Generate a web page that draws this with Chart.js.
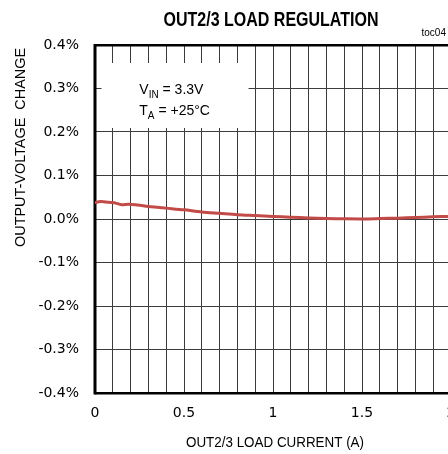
<!DOCTYPE html>
<html>
<head>
<meta charset="utf-8">
<script src="https://cdn.jsdelivr.net/npm/chart.js@4/dist/chart.umd.min.js"></script>
<style>
  html, body { margin: 0; padding: 0; background: #fff; overflow: hidden; width: 448px; height: 454px; }
  #wrap { width: 460px; height: 454px; position: relative; }
  canvas { display: block; }
</style>
</head>
<body>
<div id="wrap"><canvas id="c" width="460" height="454" style="width:460px;height:454px"></canvas></div>
<script>
// ---- data ----
const loadCurrent = [0, 0.03, 0.06, 0.1, 0.13, 0.15, 0.19, 0.24, 0.3, 0.35, 0.4, 0.5, 0.6, 0.7, 0.8, 0.9, 1.0, 1.1, 1.2, 1.3, 1.4, 1.5, 1.6, 1.7, 1.8, 1.9, 2.0];
const voltageChange = [0.038, 0.040, 0.039, 0.038, 0.035, 0.033, 0.034, 0.032, 0.029, 0.027, 0.025, 0.021, 0.016, 0.013, 0.010, 0.008, 0.006, 0.004, 0.0025, 0.0012, 0.0005, 0.0002, 0.001, 0.002, 0.0035, 0.005, 0.006];
const xTickLabels = ['0', '0.5', '1', '1.5', '2'];
const yTickLabels = ['-0.4%', '-0.3%', '-0.2%', '-0.1%', '0.0%', '0.1%', '0.2%', '0.3%', '0.4%'];
const chartTitle = 'OUT2/3 LOAD REGULATION';
const xTitle = 'OUT2/3 LOAD CURRENT (A)';
const yTitle = 'OUTPUT-VOLTAGE  CHANGE';
const figId = 'toc04';

const points = loadCurrent.map((x, i) => ({ x: x, y: voltageChange[i] }));

function drawScaledText(ctx, str, x, y, font, targetWidth, align) {
  ctx.save();
  ctx.font = font;
  const w = ctx.measureText(str).width;
  const sx = targetWidth ? targetWidth / w : 1;
  ctx.translate(x, y);
  ctx.scale(sx, 1);
  ctx.textBaseline = 'alphabetic';
  ctx.textAlign = 'left';
  let ox = 0;
  if (align === 'center') ox = -w / 2;
  else if (align === 'right') ox = -w;
  ctx.fillText(str, ox, 0);
  ctx.restore();
}

const decor = {
  id: 'decor',
  beforeDatasetsDraw(chart) {
    const ctx = chart.ctx;
    const a = chart.chartArea;
    ctx.save();
    // white annotation box
    ctx.fillStyle = '#fff';
    ctx.fillRect(a.left + 6.5, a.top + 18, 147, 65);
    // annotation text
    ctx.fillStyle = '#000';
    ctx.textBaseline = 'alphabetic';
    ctx.textAlign = 'left';
    const tx = a.left + 44.3;
    let y1 = a.top + 49;
    ctx.font = '14px "Liberation Sans", Arial, sans-serif';
    ctx.fillText('V', tx, y1);
    let x = tx + ctx.measureText('V').width;
    ctx.font = '10px "Liberation Sans", Arial, sans-serif';
    ctx.fillText('IN', x, y1 + 3.5);
    x += ctx.measureText('IN').width;
    ctx.font = '14px "Liberation Sans", Arial, sans-serif';
    ctx.fillText(' = 3.3V', x, y1);
    let y2 = a.top + 70;
    ctx.fillText('T', tx, y2);
    x = tx + ctx.measureText('T').width;
    ctx.font = '10px "Liberation Sans", Arial, sans-serif';
    ctx.fillText('A', x, y2 + 3.5);
    x += ctx.measureText('A').width;
    ctx.font = '14px "Liberation Sans", Arial, sans-serif';
    ctx.fillText(' = +25\u00B0C', x, y2);
    // frame
    ctx.fillStyle = '#000';
    ctx.fillRect(a.left - 1.5, a.top - 1, 3, a.bottom - a.top + 2.5);
    ctx.fillRect(a.left, a.top - 1, a.right - a.left + 2, 2.5);
    ctx.fillRect(a.left, a.bottom - 1, a.right - a.left + 2, 2.5);
    ctx.restore();
  },
  afterDraw(chart) {
    const ctx = chart.ctx;
    ctx.save();
    ctx.fillStyle = '#000';
    drawScaledText(ctx, chartTitle, 271, 26, 'bold 20px "Liberation Sans", Arial, sans-serif', 215, 'center');
    drawScaledText(ctx, figId, 421.5, 36, '10px "Liberation Sans", Arial, sans-serif', 0, 'left');
    drawScaledText(ctx, xTitle, 275, 447, '14px "Liberation Sans", Arial, sans-serif', 178, 'center');
    ctx.save();
    ctx.translate(25, 147.5);
    ctx.rotate(-Math.PI / 2);
    drawScaledText(ctx, yTitle, 0, 0, '14px "Liberation Sans", Arial, sans-serif', 199, 'center');
    ctx.restore();
    ctx.restore();
  }
};

const gridColor = '#3c3c3c';
const tickFont = { family: '"DejaVu Sans", sans-serif', size: 14 };

new Chart(document.getElementById('c'), {
  type: 'scatter',
  data: {
    datasets: [{
      data: points,
      showLine: true,
      borderColor: '#c24b48',
      backgroundColor: '#c24b48',
      borderWidth: 3,
      pointRadius: 0,
      tension: 0.3,
      borderCapStyle: 'round',
      borderJoinStyle: 'round'
    }]
  },
  options: {
    responsive: false,
    animation: false,
    devicePixelRatio: 1,
    layout: { padding: { top: 45, right: 9, bottom: 0, left: 0 } },
    plugins: { legend: { display: false }, tooltip: { enabled: false }, title: { display: false } },
    scales: {
      x: {
        type: 'linear',
        min: 0, max: 2,
        afterFit(s) { s.height = 61; s.paddingLeft = 0; s.paddingRight = 0; },
        border: { display: false },
        grid: { color: gridColor, lineWidth: 1, drawTicks: false },
        ticks: {
          stepSize: 0.1,
          autoSkip: false,
          maxRotation: 0,
          padding: 12,
          color: '#000',
          font: tickFont,
          callback(v) {
            const k = Math.round(v * 2);
            if (Math.abs(v * 2 - k) < 1e-6) return xTickLabels[k];
            return '';
          }
        }
      },
      y: {
        type: 'linear',
        min: -0.4, max: 0.4,
        afterFit(s) { s.width = 95; s.paddingTop = 0; s.paddingBottom = 0; },
        border: { display: false },
        grid: { color: gridColor, lineWidth: 1, drawTicks: false },
        ticks: {
          stepSize: 0.1,
          padding: 16,
          color: '#000',
          font: tickFont,
          callback(v) {
            const k = Math.round(v * 10) + 4;
            return yTickLabels[k];
          }
        }
      }
    }
  },
  plugins: [decor]
});
</script>
</body>
</html>
